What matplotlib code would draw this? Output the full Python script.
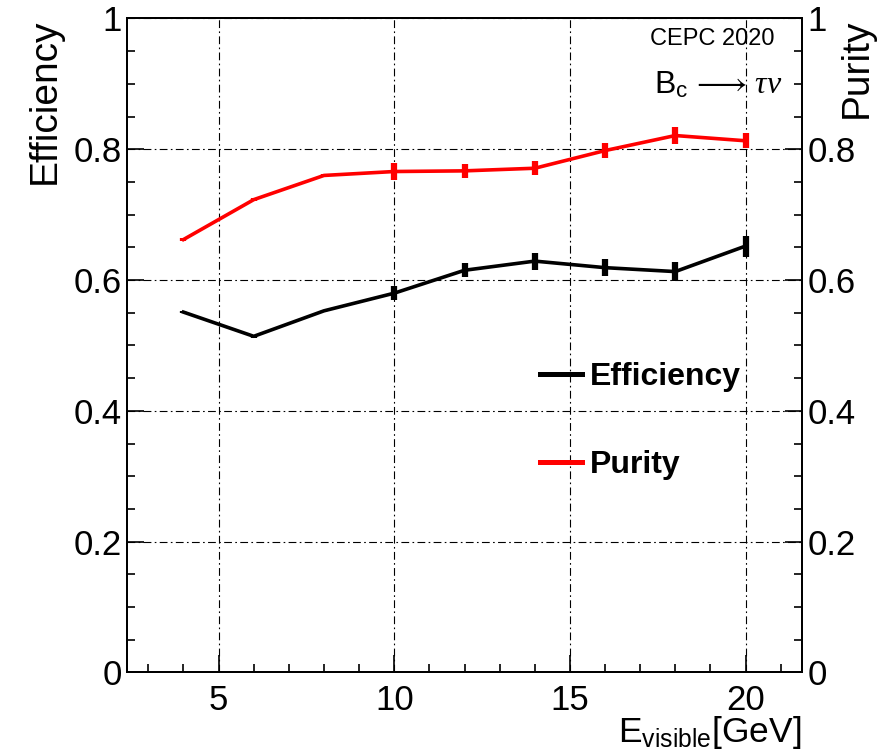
"""Efficiency and purity of the B_c -> tau nu selection vs visible energy."""

import matplotlib
matplotlib.use("Agg")
import matplotlib.pyplot as plt
from matplotlib.ticker import MultipleLocator

# values
energy = [4, 6, 8, 10, 12, 14, 16, 18, 20]
efficiency = [0.551, 0.514, 0.553, 0.580, 0.615, 0.629, 0.619, 0.613, 0.652]
efficiency_err = [0.002, 0.002, 0.002, 0.011, 0.011, 0.013, 0.013, 0.014, 0.016]
purity = [0.662, 0.723, 0.760, 0.766, 0.767, 0.771, 0.798, 0.821, 0.813]
purity_err = [0.002, 0.002, 0.002, 0.013, 0.011, 0.011, 0.012, 0.0135, 0.0115]

x_ticks = [5, 10, 15, 20]
y_ticks = [0, 0.2, 0.4, 0.6, 0.8, 1.0]

plt.rcParams['font.family'] = ['Liberation Sans', 'DejaVu Sans']
plt.rcParams['mathtext.fontset'] = 'custom'
plt.rcParams['mathtext.rm'] = 'Liberation Sans'
plt.rcParams['mathtext.it'] = 'Liberation Serif:italic'

fig = plt.figure(figsize=(8.92, 7.54), dpi=100)
ax = fig.add_axes([0.1427, 0.1081, 0.7561, 0.8674])
ax2 = ax.twinx()

ax.set_xlim(2.4, 21.6)
ax.set_ylim(0, 1)
ax2.set_ylim(0, 1)

# grid only on the main axes
grid_style = dict(color='black', linestyle=(0, (7, 3, 1.5, 3)), linewidth=0.8)
ax.grid(True, which='major', **grid_style)
ax.set_axisbelow(True)

# data
l_eff, = ax.plot(energy, efficiency, color='black', lw=2.6, zorder=3)
ax.errorbar(energy, efficiency, yerr=efficiency_err, fmt='none',
            ecolor='black', elinewidth=4.5, capsize=0, zorder=3)
l_pur, = ax2.plot(energy, purity, color='red', lw=2.6, zorder=3)
ax2.errorbar(energy, purity, yerr=purity_err, fmt='none',
             ecolor='red', elinewidth=4.5, capsize=0, zorder=3)

# ticks
ax.set_xticks(x_ticks)
ax.xaxis.set_minor_locator(MultipleLocator(1))
ax.set_yticks(y_ticks)
ax.yaxis.set_minor_locator(MultipleLocator(0.05))
ax2.set_yticks(y_ticks)
ax2.yaxis.set_minor_locator(MultipleLocator(0.05))
ax.yaxis.set_major_formatter(lambda v, p: f"{v:g}")
ax2.yaxis.set_major_formatter(lambda v, p: f"{v:g}")

ax.tick_params(which='both', direction='in', top=False, right=False, width=1.2)
ax.tick_params(which='major', length=12)
ax.tick_params(which='minor', length=6)
ax.tick_params(axis='x', labelsize=25, pad=8)
ax.tick_params(axis='y', labelsize=25, pad=4)
ax2.tick_params(which='both', direction='in', width=1.2)
ax2.tick_params(which='major', length=12, labelsize=25, pad=4)
ax2.tick_params(which='minor', length=6)

for a in (ax, ax2):
    for s in a.spines.values():
        s.set_linewidth(1.4)

# axis titles
ax.set_ylabel('Efficiency', fontsize=28, loc='top')
ax.yaxis.set_label_coords(-0.0953, 1.0)
ax2.set_ylabel('Purity', fontsize=28, loc='top')
ax2.yaxis.set_label_coords(1.0553, 1.0)
ax.set_xlabel(r'E$_{\mathrm{visible}}$[GeV]', fontsize=25.5, loc='right')
ax.xaxis.set_label_coords(1.0, -0.064)

# labels in the corner
fig.text(775 / 892, 1 - 45 / 754, 'CEPC 2020', ha='right', va='baseline', fontsize=17)
fig.text(783 / 892, 1 - 93 / 754, r'B$_{\mathrm{c}}\,\longrightarrow\,\tau\nu$',
         ha='right', va='baseline', fontsize=23)

leg = ax.legend(handles=[l_eff, l_pur], labels=['Efficiency', 'Purity'],
                loc='upper left', bbox_to_anchor=(0.612, 0.475), frameon=False,
                prop={'weight': 'bold', 'size': 23}, handlelength=1.3,
                handletextpad=0.25, labelspacing=1.82, borderpad=0, borderaxespad=0)
for line in leg.get_lines():
    line.set_linewidth(3.6)

fig.savefig('out.png', dpi=100)
